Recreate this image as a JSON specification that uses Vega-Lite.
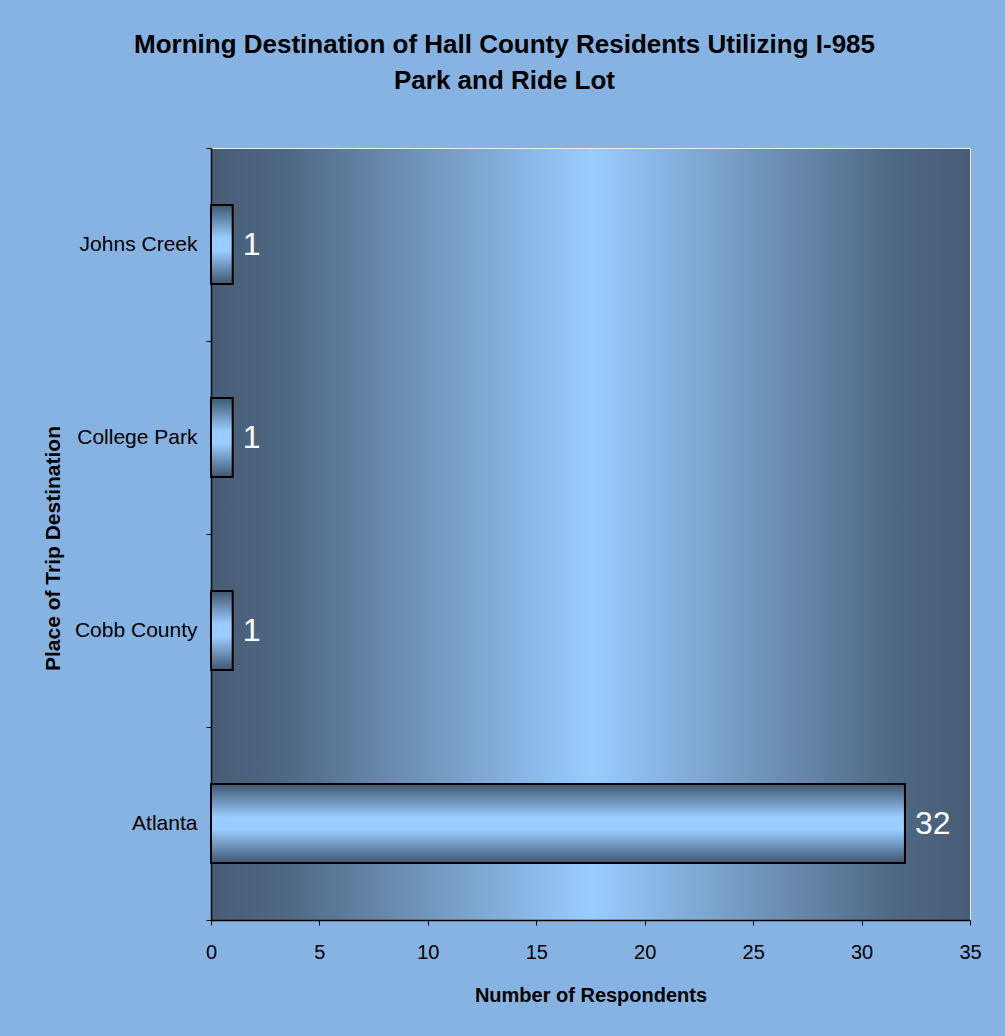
{
  "$schema": "https://vega.github.io/schema/vega-lite/v6.json",
  "width": 759,
  "height": 772,
  "autosize": {"type": "none"},
  "padding": {"left": 211, "top": 148, "right": 35, "bottom": 116},
  "background": "#87B3E3",
  "title": {
    "text": ["Morning Destination of Hall County Residents  Utilizing I-985", "Park and Ride Lot"],
    "font": "Liberation Sans",
    "fontSize": 26,
    "fontWeight": "bold",
    "color": "#000000",
    "anchor": "middle",
    "dx": -86,
    "offset": 43,
    "lineHeight": 36
  },
  "config": {
    "view": {
      "stroke": "#dfefff",
      "strokeWidth": 1,
      "fill": {
        "gradient": "linear",
        "x1": 0, "y1": 0, "x2": 1, "y2": 0,
        "stops": [
          {"offset": 0, "color": "#475d77"},
          {"offset": 0.1, "color": "#4f6884"},
          {"offset": 0.5, "color": "#99ccff"},
          {"offset": 0.9, "color": "#4f6884"},
          {"offset": 1, "color": "#475d77"}
        ]
      }
    },
    "axis": {
      "labelFont": "Liberation Sans",
      "titleFont": "Liberation Sans",
      "labelColor": "#000000",
      "titleColor": "#000000",
      "domainColor": "#000000",
      "tickColor": "#000000",
      "domainWidth": 1.5,
      "grid": false
    }
  },
  "data": {
    "values": [
      {"place": "Johns Creek", "count": 1},
      {"place": "College Park", "count": 1},
      {"place": "Cobb County", "count": 1},
      {"place": "Atlanta", "count": 32}
    ]
  },
  "encoding": {
    "y": {
      "field": "place",
      "type": "nominal",
      "sort": ["Johns Creek", "College Park", "Cobb County", "Atlanta"],
      "scale": {"paddingInner": 0, "paddingOuter": 0},
      "axis": {
        "title": "Place of Trip Destination",
        "titleFontSize": 21,
        "titleFontWeight": "bold",
        "titlePadding": 11,
        "titleY": 400,
        "labelFontSize": 21,
        "labelPadding": 9,
        "tickBand": "extent",
        "tickSize": 5
      }
    },
    "x": {
      "field": "count",
      "type": "quantitative",
      "scale": {"domain": [0, 35], "nice": false},
      "axis": {
        "title": "Number of Respondents",
        "titleFontSize": 20,
        "titleFontWeight": "bold",
        "titlePadding": 23,
        "values": [0, 5, 10, 15, 20, 25, 30, 35],
        "labelFontSize": 20,
        "labelFlush": false,
        "labelPadding": 17,
        "tickSize": 5
      }
    }
  },
  "layer": [
    {
      "mark": {
        "type": "bar",
        "height": {"band": 0.41},
        "stroke": "#000000",
        "strokeWidth": 2,
        "fill": {
          "gradient": "linear",
          "x1": 0, "y1": 0, "x2": 0, "y2": 1,
          "stops": [
            {"offset": 0, "color": "#3f5670"},
            {"offset": 0.42, "color": "#99ccff"},
            {"offset": 0.58, "color": "#99ccff"},
            {"offset": 1, "color": "#3f5670"}
          ]
        }
      }
    },
    {
      "mark": {
        "type": "text",
        "align": "left",
        "baseline": "middle",
        "dx": 10,
        "font": "Liberation Sans",
        "fontSize": 32,
        "color": "#ffffff"
      },
      "encoding": {
        "text": {"field": "count", "type": "quantitative"}
      }
    }
  ]
}
